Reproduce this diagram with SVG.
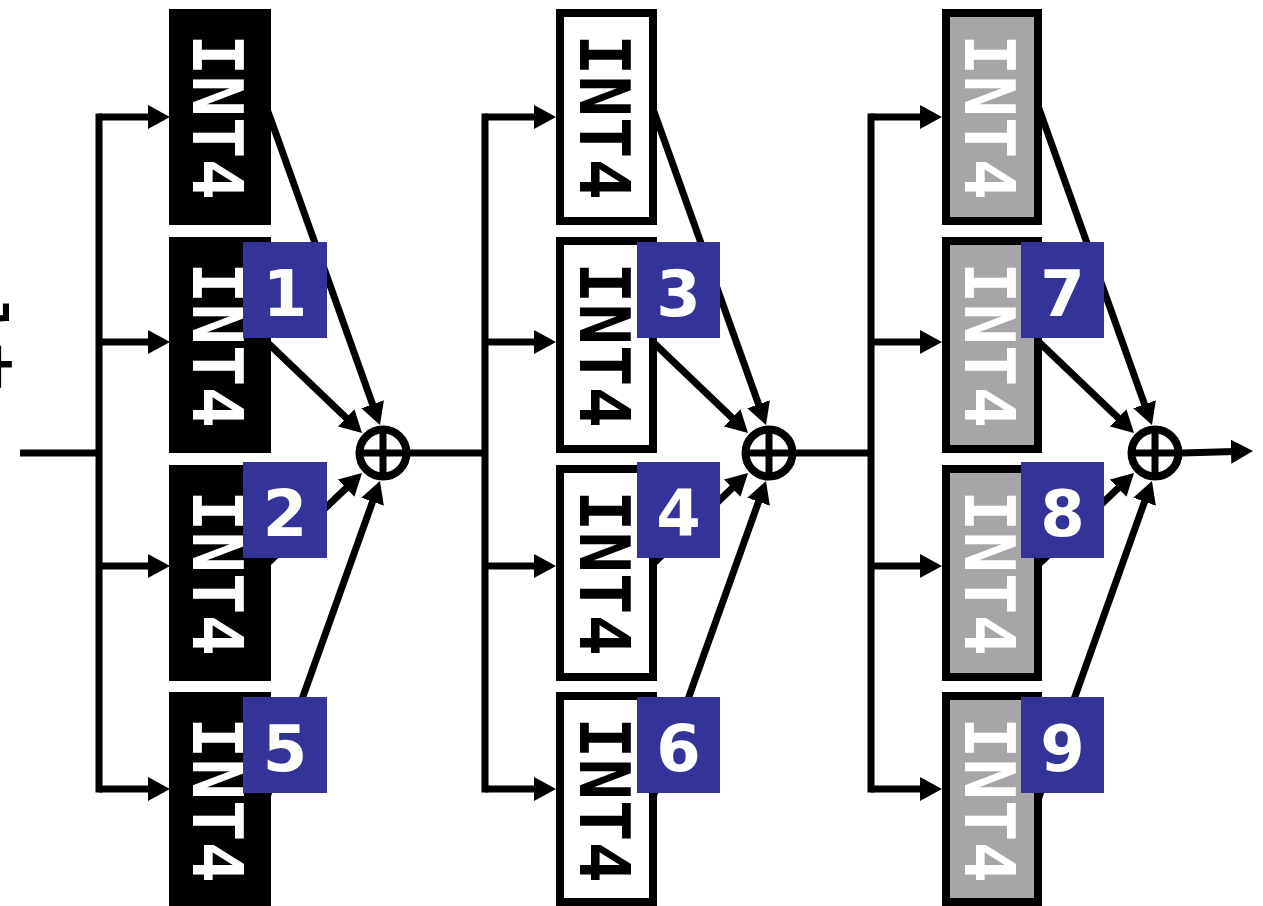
<svg xmlns="http://www.w3.org/2000/svg" width="1263" height="906" viewBox="0 0 1263 906">
  <style>
    .wire { fill: none; stroke: #000; stroke-width: 7; }
    .bus { fill: none; stroke: #000; stroke-width: 7; stroke-linecap: square; }
    .arrow { fill: none; stroke: #000; stroke-width: 7; marker-end: url(#head); }
    .blk { fill: #000; }
    .wht { fill: #fff; stroke: #000; stroke-width: 8; }
    .gry { fill: #a6a6a6; stroke: #000; stroke-width: 8; }
    .lbl { font-family: "DejaVu Sans Mono", "Liberation Mono", monospace; font-weight: bold; font-size: 69px; text-anchor: middle; }
    .lbl-w { fill: #fff; }
    .lbl-k { fill: #000; }
    .badge { fill: #333399; }
    .num { font-family: "DejaVu Sans", "Liberation Sans", sans-serif; font-weight: bold; font-size: 64px; fill: #fff; text-anchor: middle; }
    .sum { fill: none; stroke: #000; stroke-width: 8; }
    .cross { stroke: #000; stroke-width: 7; }
  </style>
  <defs>
    <marker id="head" viewBox="0 0 22 24" markerWidth="22" markerHeight="24" refX="12" refY="12" orient="auto" markerUnits="userSpaceOnUse">
      <path d="M0,0 L22,12 L0,24 Z" fill="#000"/>
    </marker>
  </defs>

  <rect width="1263" height="906" fill="#fff"/>

  <!-- side caption running off the left margin -->
  <text transform="translate(-31,292) rotate(90)" font-family="'Noto Sans CJK JP', sans-serif" font-weight="bold" font-size="50" fill="#000">入力</text>

  <!-- connectors -->
  <g id="connectors">
    <!-- stage 1 fan-out -->
    <path class="wire" d="M20,453 H99"/>
    <path class="bus" d="M99,117 V789"/>
    <path class="arrow" d="M99,117 H160"/>
    <path class="arrow" d="M99,342 H160"/>
    <path class="arrow" d="M99,566 H160"/>
    <path class="arrow" d="M99,789 H160"/>
    <!-- stage 1 fan-in -->
    <path class="arrow" d="M266.6,107.6 L376.6,415.6"/>
    <path class="arrow" d="M262.8,338.1 L354.8,426.1"/>
    <path class="arrow" d="M262.8,567.9 L354.8,479.9"/>
    <path class="arrow" d="M266.6,798.4 L376.6,490.4"/>

    <!-- stage 2 fan-out -->
    <path class="wire" d="M410,453 H485"/>
    <path class="bus" d="M485,117 V789"/>
    <path class="arrow" d="M485,117 H546"/>
    <path class="arrow" d="M485,342 H546"/>
    <path class="arrow" d="M485,566 H546"/>
    <path class="arrow" d="M485,789 H546"/>
    <!-- stage 2 fan-in -->
    <path class="arrow" d="M652.6,107.6 L762.6,415.6"/>
    <path class="arrow" d="M648.8,338.1 L740.8,426.1"/>
    <path class="arrow" d="M648.8,567.9 L740.8,479.9"/>
    <path class="arrow" d="M652.6,798.4 L762.6,490.4"/>

    <!-- stage 3 fan-out -->
    <path class="wire" d="M796,453 H871"/>
    <path class="bus" d="M871,117 V789"/>
    <path class="arrow" d="M871,117 H932"/>
    <path class="arrow" d="M871,342 H932"/>
    <path class="arrow" d="M871,566 H932"/>
    <path class="arrow" d="M871,789 H932"/>
    <!-- stage 3 fan-in -->
    <path class="arrow" d="M1038.6,107.6 L1148.6,415.6"/>
    <path class="arrow" d="M1034.8,338.1 L1126.8,426.1"/>
    <path class="arrow" d="M1034.8,567.9 L1126.8,479.9"/>
    <path class="arrow" d="M1038.6,798.4 L1148.6,490.4"/>

    <!-- output -->
    <path class="arrow" d="M1182,453 L1243,451.3"/>
  </g>

  <!-- stage 1: black blocks -->
  <g id="s1-b1"><rect class="blk" x="169" y="9" width="102" height="216"/><text class="lbl lbl-w" transform="translate(220,117) rotate(90)" y="27">INT4</text></g>
  <g id="s1-b2"><rect class="blk" x="169" y="237" width="102" height="216"/><text class="lbl lbl-w" transform="translate(220,345) rotate(90)" y="27">INT4</text></g>
  <g id="s1-b3"><rect class="blk" x="169" y="465" width="102" height="216"/><text class="lbl lbl-w" transform="translate(220,573) rotate(90)" y="27">INT4</text></g>
  <g id="s1-b4"><rect class="blk" x="169" y="692" width="102" height="220"/><text class="lbl lbl-w" transform="translate(220,800) rotate(90)" y="27">INT4</text></g>

  <!-- stage 2: white blocks -->
  <g id="s2-b1"><rect class="wht" x="560" y="13" width="93" height="208"/><text class="lbl lbl-k" transform="translate(606.5,117) rotate(90)" y="27">INT4</text></g>
  <g id="s2-b2"><rect class="wht" x="560" y="241" width="93" height="208"/><text class="lbl lbl-k" transform="translate(606.5,345) rotate(90)" y="27">INT4</text></g>
  <g id="s2-b3"><rect class="wht" x="560" y="469" width="93" height="208"/><text class="lbl lbl-k" transform="translate(606.5,573) rotate(90)" y="27">INT4</text></g>
  <g id="s2-b4"><rect class="wht" x="560" y="696" width="93" height="206"/><text class="lbl lbl-k" transform="translate(606.5,800) rotate(90)" y="27">INT4</text></g>

  <!-- stage 3: grey blocks -->
  <g id="s3-b1"><rect class="gry" x="946" y="13" width="92" height="208"/><text class="lbl lbl-w" transform="translate(992,117) rotate(90)" y="27">INT4</text></g>
  <g id="s3-b2"><rect class="gry" x="946" y="241" width="92" height="208"/><text class="lbl lbl-w" transform="translate(992,345) rotate(90)" y="27">INT4</text></g>
  <g id="s3-b3"><rect class="gry" x="946" y="469" width="92" height="208"/><text class="lbl lbl-w" transform="translate(992,573) rotate(90)" y="27">INT4</text></g>
  <g id="s3-b4"><rect class="gry" x="946" y="696" width="92" height="206"/><text class="lbl lbl-w" transform="translate(992,800) rotate(90)" y="27">INT4</text></g>

  <!-- adders -->
  <g id="sum1"><circle class="sum" cx="383" cy="453" r="23.5"/><path class="cross" d="M359,453 H407 M383,429 V477"/></g>
  <g id="sum2"><circle class="sum" cx="769" cy="453" r="23.5"/><path class="cross" d="M745,453 H793 M769,429 V477"/></g>
  <g id="sum3"><circle class="sum" cx="1155" cy="453" r="23.5"/><path class="cross" d="M1131,453 H1179 M1155,429 V477"/></g>

  <!-- numbered badges -->
  <g id="badge1"><rect class="badge" x="243" y="242" width="84" height="96"/><text class="num" x="285" y="316">1</text></g>
  <g id="badge2"><rect class="badge" x="243" y="462" width="84" height="96"/><text class="num" x="285" y="536">2</text></g>
  <g id="badge5"><rect class="badge" x="243" y="697" width="84" height="96"/><text class="num" x="285" y="771">5</text></g>
  <g id="badge3"><rect class="badge" x="637" y="242" width="83" height="96"/><text class="num" x="678.5" y="316">3</text></g>
  <g id="badge4"><rect class="badge" x="637" y="462" width="83" height="96"/><text class="num" x="678.5" y="536">4</text></g>
  <g id="badge6"><rect class="badge" x="637" y="697" width="83" height="96"/><text class="num" x="678.5" y="771">6</text></g>
  <g id="badge7"><rect class="badge" x="1021" y="242" width="83" height="96"/><text class="num" x="1062.5" y="316">7</text></g>
  <g id="badge8"><rect class="badge" x="1021" y="462" width="83" height="96"/><text class="num" x="1062.5" y="536">8</text></g>
  <g id="badge9"><rect class="badge" x="1021" y="697" width="83" height="96"/><text class="num" x="1062.5" y="771">9</text></g>
</svg>
